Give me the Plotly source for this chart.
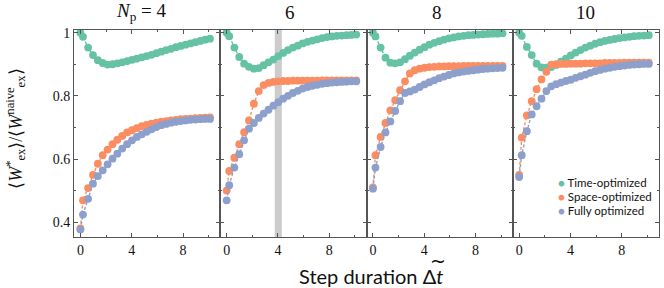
import plotly.graph_objects as go
from plotly.subplots import make_subplots

# ---------------- data ----------------
step_duration = [0, 0.2, 0.6, 0.98, 1.36, 1.74, 2.12, 2.5, 2.88, 3.26, 3.64, 4.02, 4.4, 4.78,
                 5.16, 5.54, 5.92, 6.3, 6.68, 7.06, 7.44, 7.82, 8.2, 8.58, 8.96, 9.34, 9.72, 10.1]

panel_titles = ["<i>N</i><sub>p</sub> = 4", "6", "8", "10"]

time_opt_4 = [1.0, 0.987, 0.953, 0.929, 0.913, 0.904, 0.899, 0.900, 0.903, 0.906, 0.910, 0.914, 0.918, 0.922,
              0.926, 0.930, 0.935, 0.940, 0.945, 0.949, 0.954, 0.958, 0.962, 0.966, 0.970, 0.974, 0.978, 0.981]
space_opt_4 = [0.38, 0.469, 0.508, 0.55, 0.585, 0.612, 0.63, 0.647, 0.661, 0.673, 0.684, 0.691, 0.698, 0.704,
               0.708, 0.712, 0.715, 0.718, 0.720, 0.722, 0.724, 0.726, 0.727, 0.728, 0.729, 0.730, 0.731, 0.732]
full_opt_4 = [0.377, 0.424, 0.474, 0.522, 0.546, 0.564, 0.583, 0.601, 0.617, 0.633, 0.647, 0.659, 0.67, 0.678,
              0.686, 0.694, 0.701, 0.707, 0.711, 0.715, 0.718, 0.72, 0.722, 0.724, 0.725, 0.726, 0.727, 0.727]

time_opt_6 = [1.0, 0.989, 0.953, 0.923, 0.902, 0.892, 0.886, 0.888, 0.897, 0.906, 0.915, 0.926, 0.936, 0.945,
              0.953, 0.959, 0.966, 0.971, 0.975, 0.979, 0.983, 0.986, 0.988, 0.99, 0.991, 0.992, 0.993, 0.994]
space_opt_6 = [0.50, 0.562, 0.604, 0.647, 0.685, 0.722, 0.775, 0.815, 0.834, 0.841, 0.844, 0.846, 0.847, 0.847,
               0.848, 0.848, 0.848, 0.848, 0.848, 0.848, 0.849, 0.849, 0.849, 0.849, 0.849, 0.849, 0.849, 0.849]
full_opt_6 = [0.469, 0.517, 0.573, 0.615, 0.659, 0.696, 0.714, 0.73, 0.744, 0.756, 0.769, 0.78, 0.791, 0.8,
              0.809, 0.816, 0.823, 0.828, 0.832, 0.835, 0.838, 0.840, 0.842, 0.843, 0.844, 0.845, 0.846, 0.846]

time_opt_8 = [1.0, 0.988, 0.953, 0.921, 0.905, 0.903, 0.906, 0.916, 0.927, 0.937, 0.946, 0.954, 0.962, 0.968,
              0.973, 0.978, 0.982, 0.985, 0.988, 0.990, 0.992, 0.993, 0.994, 0.995, 0.996, 0.997, 0.997, 0.998]
space_opt_8 = [0.51, 0.612, 0.67, 0.714, 0.754, 0.786, 0.818, 0.846, 0.871, 0.881, 0.886, 0.889, 0.891, 0.892,
               0.893, 0.893, 0.894, 0.894, 0.894, 0.895, 0.895, 0.895, 0.895, 0.895, 0.895, 0.895, 0.895, 0.895]
full_opt_8 = [0.506, 0.573, 0.638, 0.684, 0.719, 0.752, 0.783, 0.809, 0.814, 0.82, 0.828, 0.836, 0.843, 0.849,
              0.856, 0.861, 0.866, 0.871, 0.874, 0.877, 0.879, 0.881, 0.883, 0.885, 0.886, 0.887, 0.888, 0.889]

time_opt_10 = [1.0, 0.99, 0.955, 0.929, 0.902, 0.89, 0.889, 0.891, 0.898, 0.908, 0.918, 0.928, 0.937, 0.945,
               0.953, 0.959, 0.965, 0.97, 0.974, 0.977, 0.98, 0.983, 0.985, 0.987, 0.989, 0.99, 0.991, 0.992]
space_opt_10 = [0.55, 0.668, 0.738, 0.783, 0.821, 0.852, 0.876, 0.899, 0.900, 0.901, 0.901, 0.902, 0.902, 0.902,
                0.903, 0.903, 0.903, 0.903, 0.904, 0.904, 0.904, 0.904, 0.905, 0.905, 0.905, 0.905, 0.905, 0.905]
full_opt_10 = [0.543, 0.612, 0.688, 0.741, 0.767, 0.791, 0.815, 0.83, 0.837, 0.842, 0.847, 0.851, 0.857, 0.862,
               0.867, 0.873, 0.878, 0.882, 0.886, 0.889, 0.892, 0.894, 0.896, 0.898, 0.899, 0.9, 0.901, 0.901]

band_start, band_end = 3.75, 4.3

series_names = ["Time-optimized", "Space-optimized", "Fully optimized"]
series_colors = ["#66c2a5", "#fc8d62", "#8da0cb"]

panels = [
    [time_opt_4, space_opt_4, full_opt_4],
    [time_opt_6, space_opt_6, full_opt_6],
    [time_opt_8, space_opt_8, full_opt_8],
    [time_opt_10, space_opt_10, full_opt_10],
]

# ---------------- figure ----------------
fig = make_subplots(rows=1, cols=4, shared_yaxes=True, horizontal_spacing=0)

for c, panel in enumerate(panels, start=1):
    for vals, name, col in zip(panel, series_names, series_colors):
        fig.add_trace(go.Scatter(
            x=step_duration, y=vals, mode="lines+markers", name=name,
            line=dict(color=col, width=1.4, dash="3px,2px"),
            marker=dict(color=col, size=7.8, line=dict(width=0)),
            showlegend=False), row=1, col=c)

fig.add_shape(type="rect", xref="x2", yref="y2 domain", x0=band_start, x1=band_end,
              y0=0, y1=1, fillcolor="#cccccc", line=dict(width=0), layer="below")

axis_line = "#555555"
for c in range(1, 5):
    fig.update_xaxes(row=1, col=c, range=[-0.5, 10.9], tickmode="array", tickvals=[0, 4, 8],
                     ticktext=["0", "4", "8"], ticks="inside", ticklen=4, tickcolor=axis_line,
                     minor=dict(tickmode="array", tickvals=[2, 6, 10], ticks="inside", ticklen=2,
                                tickcolor=axis_line),
                     showline=True, linecolor=axis_line, linewidth=1, mirror="ticks",
                     showgrid=False, zeroline=False,
                     tickfont=dict(family="Liberation Serif", size=14, color="#111"))
    fig.update_yaxes(row=1, col=c, range=[0.353, 1.0085], tickmode="array",
                     tickvals=[0.4, 0.6, 0.8, 1.0], ticktext=["0.4", "0.6", "0.8", "1"],
                     ticks="inside", ticklen=4, tickcolor=axis_line,
                     minor=dict(tickmode="array", tickvals=[0.5, 0.7, 0.9], ticks="inside",
                                ticklen=2, tickcolor=axis_line),
                     showline=True, linecolor=axis_line, linewidth=1, mirror="ticks",
                     showgrid=False, zeroline=False,
                     tickfont=dict(family="Liberation Serif", size=14, color="#111"))

# panel titles
centers = [0.115, 0.37, 0.62, 0.875]
for cx, t in zip(centers, panel_titles):
    fig.add_annotation(x=cx, y=1.085, xref="paper", yref="paper", text=t, showarrow=False,
                       xanchor="center", yanchor="middle",
                       font=dict(family="Liberation Serif", size=19, color="#111"))

# axis titles
fig.add_annotation(x=0.507, y=-0.188, xref="paper", yref="paper",
                   text="Step duration Δ<i>t</i>", showarrow=False,
                   xanchor="center", yanchor="middle",
                   font=dict(family="Lato", size=20, color="#111"))
fig.add_annotation(x=0.623, y=-0.118, xref="paper", yref="paper",
                   text="~", showarrow=False, xanchor="center", yanchor="middle",
                   font=dict(family="DejaVu Sans", size=19, color="#111"))
fig.add_annotation(x=-0.1, y=0.52, xref="paper", yref="paper", textangle=-90,
                   text="⟨<i>W</i><sup>*</sup><sub>ex</sub>⟩/⟨<i>W</i><sup>naive</sup><sub>ex</sub>⟩",
                   showarrow=False, xanchor="center", yanchor="middle",
                   font=dict(family="Liberation Serif", size=18, color="#111"))

# legend (as text entries)
leg_y = [0.262, 0.195, 0.128]
for yy, name, col in zip(leg_y, series_names, series_colors):
    fig.add_annotation(x=0.824, y=yy, xref="paper", yref="paper",
                       text=f"<span style='color:{col}'>●</span> {name}", showarrow=False,
                       xanchor="left", yanchor="middle",
                       font=dict(family="Lato", size=11.5, color="#111"))

fig.update_layout(width=664, height=288, margin=dict(l=74, r=5, t=30, b=51),
                  plot_bgcolor="white", paper_bgcolor="white", showlegend=False)

fig.write_html("out.html", config={"displayModeBar": False},
               post_script="document.body.style.margin='0';document.body.style.overflow='hidden';")
